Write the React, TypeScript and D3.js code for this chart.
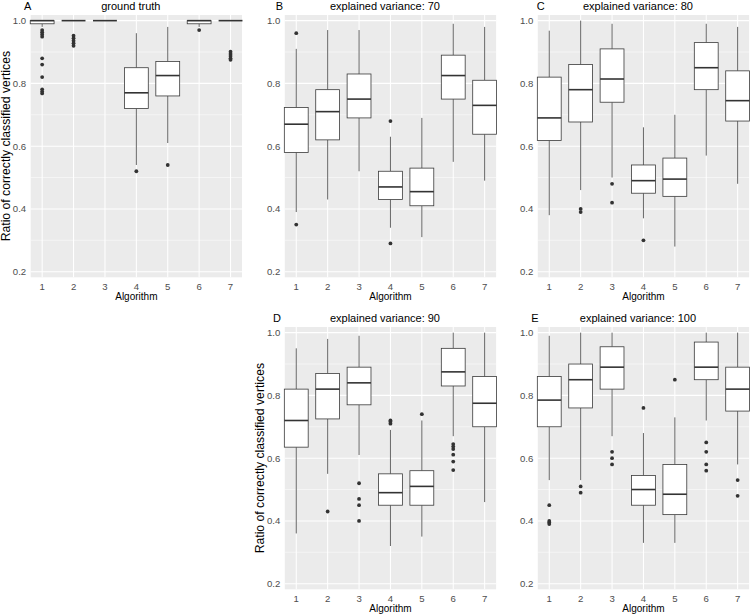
import React from 'react';
import * as d3 from 'd3';

const algorithms = ['1', '2', '3', '4', '5', '6', '7'];
const yTicks = [0.2, 0.4, 0.6, 0.8, 1.0];
const yMinorTicks = [0.3, 0.5, 0.7, 0.9];
const panelLetters = ['A', 'B', 'C', 'D', 'E'];
const panelTitles = [
  'ground truth',
  'explained variance: 70',
  'explained variance: 80',
  'explained variance: 90',
  'explained variance: 100',
];
const yAxisTitle = 'Ratio of correctly classified vertices';
const xAxisTitle = 'Algorithm';

// each box: [lower whisker, q1, median, q3, upper whisker]
const statsGroundTruth = [
  [0.98, 0.99, 1.0, 1.0, 1.0],
  [1.0, 1.0, 1.0, 1.0, 1.0],
  [1.0, 1.0, 1.0, 1.0, 1.0],
  [0.54, 0.72, 0.77, 0.85, 0.96],
  [0.61, 0.76, 0.825, 0.87, 0.98],
  [0.98, 0.99, 1.0, 1.0, 1.0],
  [1.0, 1.0, 1.0, 1.0, 1.0],
];
const outliersGroundTruth = [
  [0.97, 0.963, 0.956, 0.949, 0.88, 0.86, 0.82, 0.781, 0.774, 0.768],
  [0.952, 0.944, 0.936, 0.928, 0.92],
  [],
  [0.52],
  [0.54],
  [0.97],
  [0.901, 0.894, 0.887, 0.88, 0.875],
];

const statsEV70 = [
  [0.39, 0.58, 0.67, 0.723, 0.91],
  [0.43, 0.62, 0.71, 0.78, 0.97],
  [0.52, 0.69, 0.75, 0.83, 0.97],
  [0.34, 0.43, 0.47, 0.52, 0.63],
  [0.31, 0.41, 0.455, 0.53, 0.69],
  [0.55, 0.75, 0.825, 0.89, 0.99],
  [0.49, 0.638, 0.73, 0.81, 0.98],
];
const outliersEV70 = [[0.96, 0.35], [], [], [0.68, 0.29], [], [], []];

const statsEV80 = [
  [0.38, 0.618, 0.69, 0.82, 0.968],
  [0.46, 0.677, 0.78, 0.86, 1.0],
  [0.5, 0.74, 0.814, 0.91, 0.99],
  [0.37, 0.45, 0.49, 0.54, 0.66],
  [0.28, 0.44, 0.495, 0.562, 0.7],
  [0.57, 0.78, 0.85, 0.93, 0.99],
  [0.48, 0.68, 0.745, 0.84, 0.98],
];
const outliersEV80 = [[], [0.4, 0.39], [0.48, 0.42], [0.3], [], [], []];

const statsEV90 = [
  [0.36, 0.635, 0.72, 0.82, 0.95],
  [0.55, 0.725, 0.82, 0.87, 0.98],
  [0.61, 0.77, 0.84, 0.89, 0.99],
  [0.32, 0.45, 0.49, 0.55, 0.69],
  [0.35, 0.45, 0.51, 0.56, 0.72],
  [0.67, 0.83, 0.875, 0.95, 1.0],
  [0.46, 0.7, 0.775, 0.86, 1.0],
];
const outliersEV90 = [
  [],
  [0.43],
  [0.52, 0.47, 0.45, 0.4],
  [0.72, 0.716, 0.71],
  [0.74],
  [0.645, 0.637, 0.629, 0.611, 0.589, 0.562],
  [],
];

const statsEV100 = [
  [0.53, 0.7, 0.785, 0.86, 0.99],
  [0.53, 0.76, 0.85, 0.9, 1.0],
  [0.67, 0.82, 0.89, 0.955, 1.0],
  [0.33, 0.45, 0.5, 0.545, 0.68],
  [0.33, 0.42, 0.485, 0.58, 0.73],
  [0.72, 0.85, 0.89, 0.97, 1.0],
  [0.58, 0.75, 0.82, 0.89, 1.0],
];
const outliersEV100 = [
  [0.45, 0.4, 0.395, 0.39],
  [0.51, 0.49],
  [0.62, 0.6, 0.58],
  [0.76],
  [0.85],
  [0.65, 0.62, 0.58, 0.56],
  [0.53, 0.48],
];

const allStats = [statsGroundTruth, statsEV70, statsEV80, statsEV90, statsEV100];
const allOutliers = [outliersGroundTruth, outliersEV70, outliersEV80, outliersEV90, outliersEV100];

// layout
const W = 750;
const H = 615;
const panelLeft = [30.7, 284.8, 537.8, 284.8, 537.8];
const panelTop = [15, 15, 15, 327, 327];
const panelW = 211.3;
const panelH = 262.3;
const letterX = [27.7, 279.5, 540.8, 277, 535];
const showYTitle = [true, false, false, true, false];
const FONT = 'Liberation Sans, Arial, Helvetica, sans-serif';

function Panel({ idx }: { idx: number }) {
  const left = panelLeft[idx];
  const top = panelTop[idx];
  const x = d3
    .scalePoint<string>()
    .domain(algorithms)
    .range([left, left + panelW])
    .padding(0.365);
  const y = d3.scaleLinear().domain([0.182, 1.018]).range([top + panelH, top]);
  const boxW = x.step() * 0.76;
  const stats = allStats[idx];
  const outs = allOutliers[idx];
  const cx = left + panelW / 2;
  return (
    <g>
      <rect x={left} y={top} width={panelW} height={panelH} fill="#EBEBEB" />
      {yMinorTicks.map((t) => (
        <line key={'m' + t} x1={left} x2={left + panelW} y1={y(t)} y2={y(t)} stroke="#fff" strokeWidth={0.5} />
      ))}
      {yTicks.map((t) => (
        <line key={'M' + t} x1={left} x2={left + panelW} y1={y(t)} y2={y(t)} stroke="#fff" strokeWidth={1.05} />
      ))}
      {algorithms.map((a) => (
        <line key={'v' + a} x1={x(a)!} x2={x(a)!} y1={top} y2={top + panelH} stroke="#fff" strokeWidth={1.05} />
      ))}
      {algorithms.map((a, i) => {
        const [lo, q1, med, q3, hi] = stats[i];
        const px = x(a)!;
        return (
          <g key={'b' + a}>
            <line x1={px} x2={px} y1={y(q3)} y2={y(hi)} stroke="#333" strokeWidth={0.75} />
            <line x1={px} x2={px} y1={y(q1)} y2={y(lo)} stroke="#333" strokeWidth={0.75} />
            <rect
              x={px - boxW / 2}
              y={y(q3)}
              width={boxW}
              height={Math.max(0, y(q1) - y(q3))}
              fill="#fff"
              stroke="#3a3a3a"
              strokeWidth={0.8}
            />
            <line x1={px - boxW / 2} x2={px + boxW / 2} y1={y(med)} y2={y(med)} stroke="#333" strokeWidth={1.6} />
            {outs[i].map((o, j) => (
              <circle key={j} cx={px} cy={y(o)} r={1.9} fill="#333" />
            ))}
          </g>
        );
      })}
      {yTicks.map((t) => (
        <text
          key={'yt' + t}
          x={left - 4.5}
          y={y(t)}
          dy="0.35em"
          textAnchor="end"
          fontSize={9.6}
          fill="#4D4D4D"
          fontFamily={FONT}
        >
          {t.toFixed(1)}
        </text>
      ))}
      {algorithms.map((a) => (
        <text
          key={'xt' + a}
          x={x(a)!}
          y={top + panelH + 12.3}
          textAnchor="middle"
          fontSize={9.6}
          fill="#4D4D4D"
          fontFamily={FONT}
        >
          {a}
        </text>
      ))}
      <text x={cx} y={top + panelH + 23} textAnchor="middle" fontSize={10} fill="#000" fontFamily={FONT}>
        {xAxisTitle}
      </text>
      {showYTitle[idx] && (
        <text
          transform={`translate(${left - 25},${top + panelH / 2}) rotate(-90)`}
          textAnchor="middle"
          dy="0.35em"
          fontSize={12.2}
          fill="#000"
          fontFamily={FONT}
        >
          {yAxisTitle}
        </text>
      )}
      <text x={cx - 5.5} y={top - 5.5} textAnchor="middle" fontSize={11} fill="#000" fontFamily={FONT}>
        {panelTitles[idx]}
      </text>
      <text x={letterX[idx]} y={top - 5.5} textAnchor="middle" fontSize={11} fill="#000" fontFamily={FONT}>
        {panelLetters[idx]}
      </text>
    </g>
  );
}

export default function App() {
  return (
    <svg
      width={W}
      height={H}
      viewBox={`0 0 ${W} ${H}`}
      style={{ position: 'absolute', left: 0, top: 0, background: '#fff' }}
    >
      <rect x={0} y={0} width={W} height={H} fill="#fff" />
      {panelLetters.map((_, i) => (
        <Panel key={i} idx={i} />
      ))}
    </svg>
  );
}
